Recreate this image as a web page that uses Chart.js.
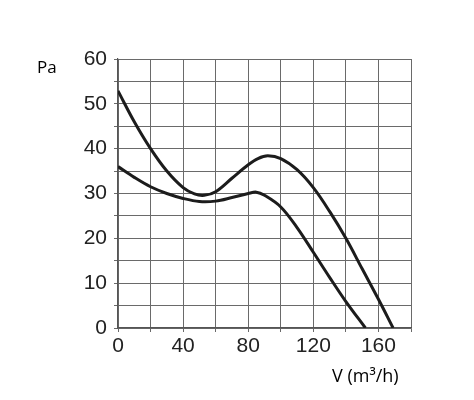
<!DOCTYPE html>
<html>
<head>
<meta charset="utf-8">
<script src="https://cdn.jsdelivr.net/npm/chart.js@4"></script>
<style>
  body { margin: 0; background: #fff; }
  #wrap { position: relative; width: 474px; height: 400px; }
  .lbl { position: absolute; font-family: "Open Sans", sans-serif; color: #000; }
</style>
</head>
<body>
<div id="wrap">
  <canvas id="fan-chart" width="474" height="400"></canvas>
  <div class="lbl" id="pa" style="left:37px; top:55px; font-size:17px;">Pa</div>
  <div class="lbl" id="vlab" style="left:332px; top:363px; font-size:18px;">V (m³/h)</div>
</div>
<script>
// flow (m3/h) and pressure (Pa)
const upperX = [0, 10, 20, 30, 40, 47, 53, 60, 70, 80, 86, 92, 100, 110, 120, 130, 140, 150, 160, 169];
const upperY = [52.9, 46.0, 40, 35.0, 31.3, 29.9, 29.6, 30.4, 33.4, 36.4, 37.8, 38.4, 37.8, 35.3, 31.3, 26, 20, 13.2, 6.4, 0];
const lowerX = [0, 10, 20, 30, 40, 50, 60, 70, 80, 85, 90, 100, 110, 120, 130, 140, 152];
const lowerY = [36, 33.6, 31.5, 30, 28.9, 28.2, 28.3, 29.1, 30, 30.3, 29.6, 27, 22.4, 16.9, 11.3, 5.9, 0];
const xMax = 180, xStep = 20;
const yMax = 60, yStep = 5;

function pts(xs, ys) {
  return xs.map((x, i) => ({ x: x, y: ys[i] }));
}

const ctx = document.getElementById('fan-chart').getContext('2d');
const chart = new Chart(ctx, {
  type: 'scatter',
  data: {
    datasets: [
      { data: pts(upperX, upperY), showLine: true, borderColor: '#1c1c1c', borderWidth: 3, pointRadius: 0, tension: 0.35 },
      { data: pts(lowerX, lowerY), showLine: true, borderColor: '#1c1c1c', borderWidth: 3, pointRadius: 0, tension: 0.35 }
    ]
  },
  options: {
    responsive: false,
    animation: false,
    layout: { padding: { left: 0, top: 59, right: 63, bottom: 32 } },
    plugins: { legend: { display: false }, tooltip: { enabled: false } },
    scales: {
      x: {
        type: 'linear', min: 0, max: xMax,
        afterFit: s => { s.height = 40; },
        border: { color: '#555', width: 1.2 },
        grid: { color: '#6a6a6a', lineWidth: 1, tickLength: 4 },
        ticks: {
          stepSize: xStep, autoSkip: false, maxRotation: 0, padding: 2,
          color: '#222', font: { family: 'Liberation Sans, Arial, sans-serif', size: 21 },
          callback: v => (v % 40 === 0 && v < xMax) ? String(v) : ''
        }
      },
      y: {
        min: 0, max: yMax,
        afterFit: s => { s.width = 118; },
        border: { color: '#555', width: 1.2 },
        grid: { color: '#6a6a6a', lineWidth: 1, tickLength: 4 },
        ticks: {
          stepSize: yStep, autoSkip: false, padding: 7,
          color: '#222', font: { family: 'Liberation Sans, Arial, sans-serif', size: 21 },
          callback: v => (v % 10 === 0) ? String(v) : ''
        }
      }
    }
  }
});
</script>
</body>
</html>
